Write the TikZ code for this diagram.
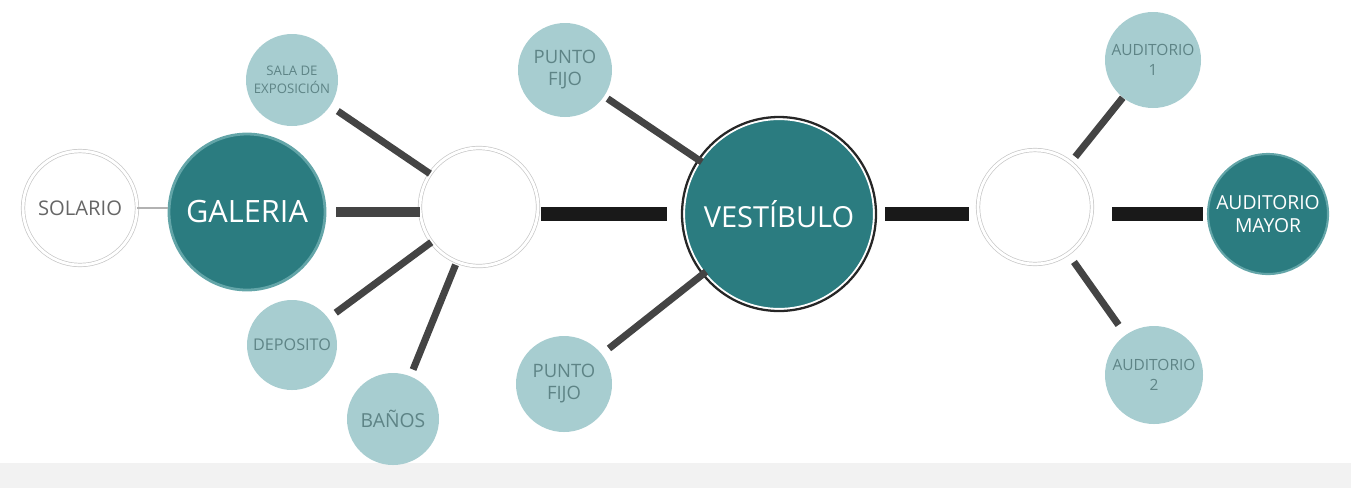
\documentclass[tikz,border=0pt]{standalone}
\usepackage{fontspec}
\setmainfont{Open Sans}
\definecolor{tealdark}{HTML}{2B7C80}
\definecolor{teallight}{HTML}{A7CDD0}
\definecolor{tealring}{HTML}{63A5A8}
\definecolor{labelgray}{HTML}{5E8486}
\definecolor{linegray}{HTML}{444444}
\definecolor{bandgray}{HTML}{F2F2F2}
\tikzset{
  room/.style={circle,inner sep=0pt,fill=teallight,text=labelgray,align=center,minimum size=#1*0.02cm},
  mainroom/.style={circle,inner sep=0pt,fill=tealdark,text=white,align=center,minimum size=#1*0.02cm},
  hub/.style={circle,inner sep=0pt,draw=black!22,double=white,double distance=1.6pt,line width=0.4pt,minimum size=#1*0.02cm},
  link/.style={linegray,line width=4pt},
  wide/.style={black!90,line width=8.5pt},
  gap start/.style={shorten <=#1*0.02cm},
  gap end/.style={shorten >=#1*0.02cm},
  fs/.style 2 args={font=\fontsize{#1}{#2}\selectfont}
}
\begin{document}
\begin{tikzpicture}[x=0.02cm,y=-0.02cm]
\useasboundingbox (0,0) rectangle (1351,488);
\fill[bandgray] (0,463) rectangle (1351,488);

\node[hub=114,fs={11.5}{14},text=black!60] (solario) at (80,208) {SOLARIO};
\node[mainroom=156,draw=tealring,line width=1.6pt,fs={17.5}{20}] (galeria) at (247,212) {GALERIA};
\node[room=92,fs={7.5}{10}] (sala) at (292,80) {SALA DE\\EXPOSICIÓN};
\node[room=90,fs={9.2}{11}] (deposito) at (292,345) {DEPOSITO};
\node[room=92,fs={11}{13}] (banos) at (393,419) {BAÑOS};
\node[hub=118] (hubl) at (479,207) {};

\node[mainroom=190,draw=white,line width=1.2pt,fs={16.5}{19}] (vest) at (779,214) {VESTÍBULO};
\draw[black!85,line width=1.3pt] (vest.center) circle (97);
\node[room=94,fs={10.5}{12.5}] (fijoa) at (565,70) {PUNTO\\FIJO};
\node[room=96,fs={10.5}{12.5}] (fijob) at (564,384) {PUNTO\\FIJO};

\node[hub=114] (hubr) at (1035,207) {};
\node[room=96,fs={8.8}{11}] (audia) at (1153,60) {AUDITORIO\\1};
\node[room=98,fs={8.8}{11}] (audib) at (1154,375) {AUDITORIO\\2};
\node[mainroom=120,draw=tealring,line width=1.2pt,fs={11}{13}] (mayor) at (1268,214) {AUDITORIO\\MAYOR};

\draw[black!30,line width=1.2pt] (solario) -- (solario -| galeria.west);
\draw[linegray,line width=5.6pt,gap start=10] (galeria.east) -- (galeria.east -| hubl.west);
\draw[link,gap start=9] (sala) -- (hubl);
\draw[link,gap start=9] (deposito) -- (hubl);
\draw[link,gap start=7,gap end=3] (banos) -- (hubl);
\draw[wide,gap start=3,gap end=16] (vest.west -| hubl.east) -- (vest.west);
\draw[link,gap start=4,gap end=-3] (fijoa) -- (vest);
\draw[link,gap start=9,gap end=-3] (fijob) -- (vest);
\draw[wide,gap start=10,gap end=9] (vest.east) -- (vest.east -| hubr.west);
\draw[link,gap start=7] (hubr) -- (audia);
\draw[link,gap start=10,gap end=12] (hubr) -- (audib);
\draw[wide,gap start=20,gap end=4] (mayor.west -| hubr.east) -- (mayor.west);
\end{tikzpicture}
\end{document}
